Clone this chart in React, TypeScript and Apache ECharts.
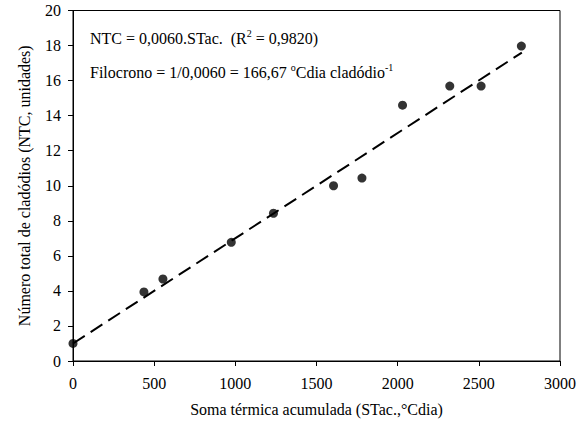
import React, { useEffect, useRef } from "react";
import * as echarts from "echarts";

const obsX = [0, 437, 554, 975, 1235, 1605, 1780, 2030, 2321, 2514, 2762];
const obsY = [1.0, 3.94, 4.68, 6.77, 8.43, 10.0, 10.44, 14.6, 15.69, 15.69, 17.97];
const fitX = [0, 2765];
const fitY = [1.0, 17.6];
const xTicks = { min: 0, max: 3000, interval: 500 };
const yTicks = { min: 0, max: 20, interval: 2 };
const FONT = "'Liberation Serif', 'Times New Roman', Times, serif";

export default function App() {
  const ref = useRef<HTMLDivElement>(null);
  useEffect(() => {
    document.body.style.margin = "0";
    if (!ref.current) return;
    const chart = echarts.init(ref.current, null, { renderer: "svg" });
    const obs = obsX.map((x, i) => [x, obsY[i]]);
    const fit = fitX.map((x, i) => [x, fitY[i]]);
    const sup = { fontSize: 10, fontFamily: FONT, verticalAlign: "top", lineHeight: 8, fill: "#000" };
    chart.setOption({
      animation: false,
      backgroundColor: "#fff",
      textStyle: { fontFamily: FONT },
      grid: {
        left: 73,
        right: 24,
        top: 10.5,
        bottom: 69,
        show: true,
        borderColor: "#000",
        borderWidth: 1,
      },
      xAxis: {
        type: "value",
        ...xTicks,
        name: "Soma térmica acumulada (STac.,°Cdia)",
        nameLocation: "middle",
        nameGap: 40,
        nameTextStyle: { fontFamily: FONT, fontSize: 16, color: "#000" },
        axisLine: { show: true, lineStyle: { color: "#000", width: 1 } },
        axisTick: { show: true, length: 5, lineStyle: { color: "#000" } },
        axisLabel: {
          fontFamily: FONT,
          fontSize: 16,
          color: "#000",
          margin: 14,
          formatter: (v: number) => String(v),
        },
        splitLine: { show: false },
      },
      yAxis: {
        type: "value",
        ...yTicks,
        name: "Número total de cladódios (NTC, unidades)",
        nameLocation: "middle",
        nameGap: 41,
        nameTextStyle: { fontFamily: FONT, fontSize: 16, color: "#000" },
        axisLine: { show: true, lineStyle: { color: "#000", width: 1 } },
        axisTick: { show: true, length: 5, lineStyle: { color: "#000" } },
        axisLabel: {
          fontFamily: FONT,
          fontSize: 16,
          color: "#000",
          margin: 12,
          formatter: (v: number) => String(v),
        },
        splitLine: { show: false },
      },
      series: [
        {
          type: "line",
          data: fit,
          symbol: "none",
          lineStyle: { color: "#000", width: 2, type: [14, 7] },
          z: 2,
        },
        {
          type: "scatter",
          data: obs,
          symbol: "circle",
          symbolSize: 9,
          itemStyle: { color: "#000" },
          z: 3,
        },
      ],
      graphic: [
        {
          type: "text",
          left: 90,
          top: 28,
          style: {
            text: "NTC = 0,0060.STac.  (R{sup|2} = 0,9820)",
            fontFamily: FONT,
            fontSize: 16,
            lineHeight: 20,
            fill: "#000",
            rich: { sup },
          },
        },
        {
          type: "text",
          left: 90,
          top: 62,
          style: {
            text: "Filocrono = 1/0,0060 = 166,67 {sup|o}Cdia cladódio{sup|-1}",
            fontFamily: FONT,
            fontSize: 16,
            lineHeight: 20,
            fill: "#000",
            rich: { sup },
          },
        },
      ],
    });
    return () => chart.dispose();
  }, []);
  return <div ref={ref} style={{ width: 584, height: 430 }} />;
}
